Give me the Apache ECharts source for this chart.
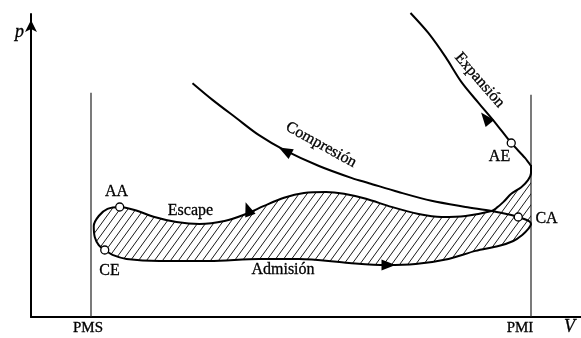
<!DOCTYPE html>
<html>
<head>
<meta charset="utf-8">
<script src="https://cdn.jsdelivr.net/npm/echarts@6/dist/echarts.min.js"></script>
<style>
  html, body { margin: 0; padding: 0; background: #fff; }
  #chart { width: 581px; height: 338px; }
</style>
</head>
<body>
<div id="chart"></div>
<script>
// p–V diagram of the gas-exchange (pumping) loop of a four-stroke engine.
// Volume V and pressure p are in arbitrary units (V: 0–110, p: 0–60).

// Dead centres
const deadCentreV = [12, 100];
const deadCentreNames = ['PMS', 'PMI'];
const deadCentreTopP = [44.4, 44.0];

// Expansion stroke, ending at the PMI line
const expansionV = [75.9, 79.5, 82.9, 86.1, 89.5, 92.9, 96.05, 98.8, 100.0];
const expansionP = [60.2, 56.2, 51.5, 46.5, 42.4, 38.4, 34.46, 31.5, 29.9];

// Blow-down, escape (exhaust) stroke, admission (intake) stroke, up to CA
const loopV = [100.0, 100.0, 99.4, 98.05, 96.05, 94.5, 93.1, 92.1, 86.9, 82.1,
               77.5, 72.1, 67.0, 62.6, 59.0, 54.6, 50.6, 46.6, 43.0, 38.7,
               33.7, 29.1, 24.7, 20.7, 17.74, 15.3, 13.55, 12.55, 12.75, 13.55,
               14.75, 16.3, 19.1, 25.7, 35.7, 45.6, 53.6, 63.6, 70.9, 76.9,
               83.5, 88.9, 93.5, 96.45, 98.25, 99.45, 100.0, 99.6, 97.45];
const loopP = [30.1, 28.5, 27.1, 25.7, 24.4, 22.8, 21.6, 21.0, 20.0, 19.8,
               20.4, 21.8, 23.4, 24.4, 24.75, 24.55, 23.6, 22.0, 20.4, 19.0,
               18.4, 18.8, 19.8, 21.2, 21.78, 21.4, 20.0, 18.0, 15.85, 14.25,
               13.27, 12.3, 11.5, 11.1, 11.1, 11.5, 11.5, 10.7, 10.3, 10.5,
               11.5, 13.1, 14.05, 15.05, 16.25, 17.45, 18.4, 19.0, 19.8];

// Compression stroke, from CA back towards PMS
const compressionV = [97.45, 96.05, 92.1, 86.9, 80.1, 73.5, 67.6, 64.2, 57.6, 50.6, 45.6, 41.05, 36.3, 32.3];
const compressionP = [19.8, 20.2, 21.0, 21.8, 23.0, 24.75, 26.5, 27.5, 29.9, 33.1, 36.0, 39.4, 43.0, 46.3];

// Valve events: intake opening (AA), exhaust closing (CE), intake closing (CA), exhaust opening (AE)
const valveNames = ['AA', 'CE', 'CA', 'AE'];
const valveV = [17.74, 14.75, 97.45, 96.05];
const valveP = [21.78, 13.27, 19.8, 34.46];

// Text annotations and direction arrows
const annotations = [
  { text: 'AA', at: [17.1, 24.8], rotate: 0 },
  { text: 'CE', at: [15.7, 9.1], rotate: 0 },
  { text: 'AE', at: [93.7, 31.7], rotate: 0 },
  { text: 'CA', at: [103.1, 19.4], rotate: 0 },
  { text: 'Escape', at: [31.9, 21.0], rotate: 0 },
  { text: 'Admisión', at: [50.4, 9.3], rotate: 0 },
  { text: 'Compresión', at: [58.0, 34.1], rotate: -29 },
  { text: 'Expansión', at: [89.7, 46.9], rotate: -49 }
];
const arrows = [
  { at: [50.8, 32.9], rotate: 62 },
  { at: [90.9, 39.4], rotate: 39 },
  { at: [43.4, 21.4], rotate: 20 },
  { at: [71.5, 10.3], rotate: -90 }
];

const INK = '#000';
const SERIF = "'Liberation Serif', 'Times New Roman', serif";
const TEXT_EDGE = { textBorderColor: INK, textBorderWidth: 0.3 };

const zip = (xs, ys) => xs.map((x, i) => [x, ys[i]]);

// Diagonal hatching tile for the pumping-loop area
function hatchTile() {
  const w = 8, h = 11;
  const c = document.createElement('canvas');
  c.width = w; c.height = h;
  const g = c.getContext('2d');
  g.strokeStyle = '#1a1a1a';
  g.lineWidth = 1;
  for (let k = -1; k <= 1; k++) {
    g.beginPath();
    g.moveTo(k * w, h);
    g.lineTo(k * w + w, 0);
    g.stroke();
  }
  return c;
}
const tile = hatchTile();

// Closed area: loop up to the PMI line, closed along that line
const areaV = loopV.slice(0, loopV.length - 2);
const areaP = loopP.slice(0, loopP.length - 2);

const curveStyle = { color: INK, width: 2 };
const chart = echarts.init(document.getElementById('chart'), null, { renderer: 'canvas' });

chart.setOption({
  animation: false,
  backgroundColor: '#fff',
  grid: { left: 31, top: 14, width: 552, height: 303 },
  xAxis: {
    type: 'value', min: 0, max: 110,
    axisLine: { show: true, onZero: false, lineStyle: { color: INK, width: 2 } },
    axisTick: { show: false },
    splitLine: { show: false },
    axisLabel: {
      customValues: deadCentreV,
      margin: 4,
      color: INK, fontFamily: SERIF, fontSize: 15,
      formatter: v => {
        const i = deadCentreV.indexOf(v);
        return i === 0 ? '{a|' + deadCentreNames[0] + '}' : '{b|' + deadCentreNames[1] + '}';
      },
      rich: {
        a: { color: INK, fontFamily: SERIF, fontSize: 15, padding: [0, 6, 0, 0], ...TEXT_EDGE },
        b: { color: INK, fontFamily: SERIF, fontSize: 15, padding: [0, 22, 0, 0], ...TEXT_EDGE }
      }
    },
    name: 'V', nameLocation: 'end', nameGap: -17,
    nameTextStyle: { color: INK, fontFamily: SERIF, fontStyle: 'italic', fontSize: 18,
                     verticalAlign: 'top', padding: [1, 0, 0, 0], ...TEXT_EDGE }
  },
  yAxis: {
    type: 'value', min: 0, max: 60,
    axisLine: { show: true, onZero: false, lineStyle: { color: INK, width: 2 },
                symbol: ['none', 'arrow'], symbolSize: [9, 12], symbolOffset: [0, -6] },
    axisTick: { show: false },
    axisLabel: { show: false },
    splitLine: { show: false },
    name: 'p', nameLocation: 'end', nameGap: -9,
    nameTextStyle: { color: INK, fontFamily: SERIF, fontStyle: 'italic', fontSize: 18,
                     align: 'right', verticalAlign: 'top', padding: [0, 7, 0, 0], ...TEXT_EDGE }
  },
  series: [
    {
      type: 'custom', coordinateSystem: 'cartesian2d', silent: true, clip: false, z: 1,
      data: [[areaV[0], areaP[0]]],
      renderItem: (params, api) => ({
        type: 'polygon',
        shape: { points: areaV.map((v, i) => api.coord([v, areaP[i]])) },
        style: { fill: { image: tile, repeat: 'repeat' }, stroke: null }
      })
    },
    ...deadCentreV.map((v, i) => ({
      type: 'line', silent: true, symbol: 'none', z: 2,
      data: [[v, 0], [v, deadCentreTopP[i]]],
      lineStyle: { color: '#222', width: 1.2 }
    })),
    { type: 'line', name: 'Expansión', data: zip(expansionV, expansionP), smooth: 0.3,
      symbol: 'none', clip: false, lineStyle: curveStyle, z: 3 },
    { type: 'line', name: 'Escape / Admisión', data: zip(loopV, loopP), smooth: 0.3,
      symbol: 'none', clip: false, lineStyle: curveStyle, z: 3 },
    { type: 'line', name: 'Compresión', data: zip(compressionV, compressionP), smooth: 0.3,
      symbol: 'none', clip: false, lineStyle: curveStyle, z: 3 },
    { type: 'scatter', silent: true, clip: false, z: 4,
      symbol: 'triangle', symbolSize: [11, 14],
      itemStyle: { color: INK, opacity: 1 },
      data: arrows.map(a => ({ value: a.at, symbolRotate: a.rotate })) },
    { type: 'scatter', silent: true, clip: false, z: 5,
      symbol: 'circle', symbolSize: 8,
      itemStyle: { color: '#fff', borderColor: INK, borderWidth: 1.3, opacity: 1 },
      data: valveNames.map((n, i) => ({ name: n, value: [valveV[i], valveP[i]] })) },
    { type: 'scatter', silent: true, clip: false, z: 6,
      symbol: 'circle', symbolSize: 1, itemStyle: { color: 'rgba(0,0,0,0)', opacity: 1 },
      label: { show: true, position: 'inside', formatter: '{b}', opacity: 1,
               color: INK, fontFamily: SERIF, fontSize: 16, ...TEXT_EDGE },
      data: annotations.map(a => ({ name: a.text, value: a.at, label: { rotate: a.rotate } })) }
  ]
});
</script>
</body>
</html>
